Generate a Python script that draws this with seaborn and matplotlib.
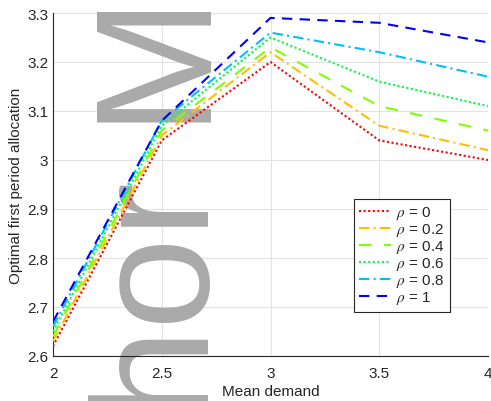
import numpy as np
import pandas as pd
import matplotlib
matplotlib.use("Agg")
import matplotlib.pyplot as plt
import seaborn as sns

# data
mean_demand = [2, 2.5, 3, 3.5, 4]
rho_labels = [r"$\rho$ = 0", r"$\rho$ = 0.2", r"$\rho$ = 0.4",
              r"$\rho$ = 0.6", r"$\rho$ = 0.8", r"$\rho$ = 1"]
alloc_rho0 = [2.62, 3.04, 3.20, 3.04, 3.00]
alloc_rho02 = [2.63, 3.05, 3.22, 3.07, 3.02]
alloc_rho04 = [2.64, 3.06, 3.23, 3.11, 3.06]
alloc_rho06 = [2.65, 3.07, 3.25, 3.16, 3.11]
alloc_rho08 = [2.66, 3.08, 3.26, 3.22, 3.17]
alloc_rho1 = [2.67, 3.08, 3.29, 3.28, 3.24]
series = [alloc_rho0, alloc_rho02, alloc_rho04, alloc_rho06, alloc_rho08, alloc_rho1]

colors = ["#ff0000", "#ffbf00", "#80ff00", "#00ff40", "#00bfff", "#0000ff"]
styles = [(0, (1, 1.2)), (0, (5, 2, 1, 2)), (0, (6, 6)),
          (0, (1, 1.2)), (0, (5, 2, 1, 2)), (0, (5, 3.5))]

sns.set_style("white")
plt.rcParams["font.family"] = ["Liberation Sans", "DejaVu Sans"]
plt.rcParams["mathtext.fontset"] = "stix"

fig = plt.figure(figsize=(4.91, 4.02), dpi=100)
ax = fig.add_axes([53 / 491, 1 - 357 / 402, 435 / 491, 343 / 402])

# watermark
ax.text(232 / 491, 1 + 15 / 402, "M", transform=fig.transFigure, rotation=90,
        ha="right", va="top", fontsize=119, color="#aaaaaa", zorder=1,
        clip_on=False)
ax.text(232 / 491, 1 - 170 / 402, "hor", transform=fig.transFigure, rotation=90,
        ha="right", va="top", fontsize=119, color="#aaaaaa", zorder=1,
        clip_on=False)

for vals, lab, col, ls in zip(series, rho_labels, colors, styles):
    df = pd.DataFrame({"x": mean_demand, "y": vals})
    sns.lineplot(data=df, x="x", y="y", ax=ax, color=col, linestyle=ls,
                 linewidth=1.5, label=lab, zorder=3)

ax.set_xlim(2, 4)
ax.set_ylim(2.6, 3.3)
ax.set_xticks([2, 2.5, 3, 3.5, 4])
ax.set_xticklabels(["2", "2.5", "3", "3.5", "4"])
ax.set_yticks([2.6, 2.7, 2.8, 2.9, 3.0, 3.1, 3.2, 3.3])
ax.set_yticklabels(["2.6", "2.7", "2.8", "2.9", "3", "3.1", "3.2", "3.3"])
ax.grid(True, color="#e3e3e3", linewidth=0.8, zorder=0)
ax.set_axisbelow(True)
for s in ["top", "right"]:
    ax.spines[s].set_visible(False)
for s in ["left", "bottom"]:
    ax.spines[s].set_color("#262626")
    ax.spines[s].set_linewidth(0.8)
ax.tick_params(direction="in", length=4, width=0.8, colors="#262626",
               labelsize=11, labelcolor="#262626")
ax.tick_params(axis="x", pad=7)
ax.set_xlabel("Mean demand", fontsize=11, color="#262626", labelpad=3)
ax.set_ylabel("Optimal first period allocation", fontsize=11, color="#262626",
              labelpad=3)

leg = ax.legend(loc="upper left", bbox_to_anchor=(0.692, 0.458),
                borderaxespad=0, fontsize=11, fancybox=False, framealpha=1,
                edgecolor="#262626", handlelength=2.1, labelspacing=0.0,
                handletextpad=0.3, borderpad=0.35)
leg.get_frame().set_linewidth(0.8)
leg.set_zorder(5)

fig.savefig("out.png", dpi=100)
